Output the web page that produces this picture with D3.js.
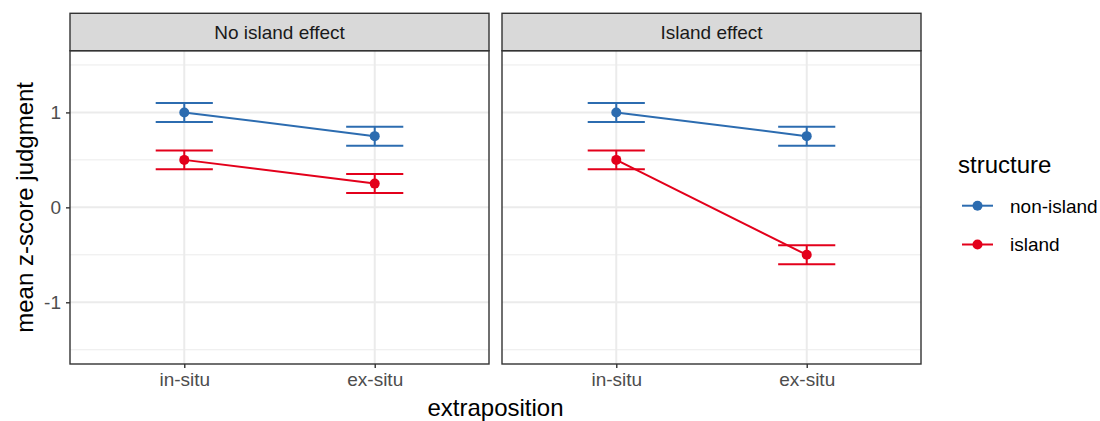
<!DOCTYPE html>
<html>
<head>
<meta charset="utf-8">
<script src="https://cdn.jsdelivr.net/npm/d3@7"></script>
<style>
  body { margin: 0; background: #fff; }
  text { font-family: "Liberation Sans", Arial, Helvetica, sans-serif; }
</style>
</head>
<body>
<div id="chart"></div>
<script>
// Chart data
var facets = ['No island effect', 'Island effect'];
var positions = ['in-situ', 'ex-situ'];
var structures = ['non-island', 'island'];
var colors = ['#2c6cb0', '#e3001b'];

// means per facet, in position order
var nonIslandMeans = [[1.0, 0.75], [1.0, 0.75]];
var islandMeans = [[0.5, 0.25], [0.5, -0.5]];
// error bar half widths
var nonIslandErr = [[0.1, 0.1], [0.1, 0.1]];
var islandErr = [[0.1, 0.1], [0.1, 0.1]];

var yTicks = [-1, 0, 1];
var yMinor = [-1.5, -0.5, 0.5, 1.5];

// Dimensions
var svgWidth = 1100;
var svgHeight = 421;
var panelTop = 50.7;
var panelBottom = 364;
var stripTop = 13.3;
var panelLefts = [70, 502];
var panelWidth = 419;

var svg = d3.select('#chart')
    .append('svg')
    .attr('width', svgWidth)
    .attr('height', svgHeight);

var yScale = d3.scaleLinear()
    .domain([-1.65, 1.65])
    .range([panelBottom, panelTop]);

var xScale = d3.scalePoint()
    .domain(positions)
    .range([0, panelWidth])
    .padding(0.6);  // 0.6 expansion each side on a discrete axis

facets.forEach(function (facet, f) {
    var g = svg.append('g')
        .attr('transform', `translate(${panelLefts[f]} 0)`);

    // Panel background + grid
    g.append('rect')
        .attr('x', 0).attr('y', panelTop)
        .attr('width', panelWidth).attr('height', panelBottom - panelTop)
        .attr('fill', '#fff');

    g.selectAll('.minor')
        .data(yMinor)
        .enter()
        .append('line')
        .attr('x1', 0).attr('x2', panelWidth)
        .attr('y1', d => yScale(d)).attr('y2', d => yScale(d))
        .attr('stroke', '#ebebeb').attr('stroke-width', 1);

    g.selectAll('.major')
        .data(yTicks)
        .enter()
        .append('line')
        .attr('x1', 0).attr('x2', panelWidth)
        .attr('y1', d => yScale(d)).attr('y2', d => yScale(d))
        .attr('stroke', '#ebebeb').attr('stroke-width', 2);

    g.selectAll('.vgrid')
        .data(positions)
        .enter()
        .append('line')
        .attr('x1', d => xScale(d)).attr('x2', d => xScale(d))
        .attr('y1', panelTop).attr('y2', panelBottom)
        .attr('stroke', '#ebebeb').attr('stroke-width', 2);

    // Series
    var series = [
        { means: nonIslandMeans[f], errs: nonIslandErr[f], color: colors[0] },
        { means: islandMeans[f], errs: islandErr[f], color: colors[1] }
    ];

    series.forEach(function (s) {
        var pts = positions.map((p, i) => ({ x: p, y: s.means[i], e: s.errs[i] }));

        // error bars
        pts.forEach(function (d) {
            var cx = xScale(d.x);
            var half = xScale.step() * 0.15;
            var eb = g.append('g')
                .attr('stroke', s.color)
                .attr('stroke-width', 2)
                .attr('fill', 'none');
            eb.append('line')
                .attr('x1', cx - half).attr('x2', cx + half)
                .attr('y1', yScale(d.y + d.e)).attr('y2', yScale(d.y + d.e));
            eb.append('line')
                .attr('x1', cx - half).attr('x2', cx + half)
                .attr('y1', yScale(d.y - d.e)).attr('y2', yScale(d.y - d.e));
            eb.append('line')
                .attr('x1', cx).attr('x2', cx)
                .attr('y1', yScale(d.y + d.e)).attr('y2', yScale(d.y - d.e));
        });

        var line = d3.line()
            .x(d => xScale(d.x))
            .y(d => yScale(d.y));

        g.append('path')
            .datum(pts)
            .attr('d', line)
            .attr('fill', 'none')
            .attr('stroke', s.color)
            .attr('stroke-width', 2);

        g.selectAll(null)
            .data(pts)
            .enter()
            .append('circle')
            .attr('cx', d => xScale(d.x))
            .attr('cy', d => yScale(d.y))
            .attr('r', 5)
            .attr('fill', s.color);
    });

    // Panel border
    g.append('rect')
        .attr('x', 0).attr('y', panelTop)
        .attr('width', panelWidth).attr('height', panelBottom - panelTop)
        .attr('fill', 'none')
        .attr('stroke', '#333333').attr('stroke-width', 1.4);

    // Strip
    g.append('rect')
        .attr('x', 0).attr('y', stripTop)
        .attr('width', panelWidth).attr('height', panelTop - stripTop)
        .attr('fill', '#d9d9d9')
        .attr('stroke', '#333333').attr('stroke-width', 1.4);

    g.append('text')
        .attr('x', panelWidth / 2)
        .attr('y', (stripTop + panelTop) / 2)
        .attr('dy', '0.36em')
        .attr('text-anchor', 'middle')
        .style('font-size', '19px')
        .style('fill', '#1a1a1a')
        .text(facet);

    // X axis
    var xAxis = d3.axisBottom(xScale).tickSize(4).tickPadding(5);
    var xg = g.append('g')
        .attr('transform', `translate(0, ${panelBottom})`)
        .call(xAxis);
    xg.select('.domain').remove();
    xg.selectAll('line').attr('stroke', '#333333').attr('stroke-width', 1.4);
    xg.selectAll('text')
        .style('font-size', '19px')
        .style('fill', '#4d4d4d')
        .style('font-family', '"Liberation Sans", Arial, sans-serif');

    // Y axis only on first panel
    if (f == 0) {
        var yAxis = d3.axisLeft(yScale).tickValues(yTicks).tickSize(4).tickPadding(5)
            .tickFormat(d => String(d));
        var yg = g.append('g').call(yAxis);
        yg.select('.domain').remove();
        yg.selectAll('line').attr('stroke', '#333333').attr('stroke-width', 1.4);
        yg.selectAll('text')
            .style('font-size', '19px')
            .style('fill', '#4d4d4d')
            .style('font-family', '"Liberation Sans", Arial, sans-serif');
    }
});

// Axis titles
svg.append('text')
    .attr('x', (panelLefts[0] + panelLefts[1] + panelWidth) / 2)
    .attr('y', 416)
    .attr('text-anchor', 'middle')
    .style('font-size', '24px')
    .style('fill', '#000')
    .text('extraposition');

svg.append('g')
    .attr('transform', `translate(33 ${(panelTop + panelBottom) / 2})`)
    .append('text')
    .attr('transform', 'rotate(-90)')
    .attr('text-anchor', 'middle')
    .style('font-size', '24px')
    .style('fill', '#000')
    .text('mean z-score judgment');

// Legend
var legend = svg.append('g').attr('transform', 'translate(958 0)');
legend.append('text')
    .attr('x', 0).attr('y', 173)
    .style('font-size', '24px')
    .text('structure');

var keyY = [205.7, 244.5];
structures.forEach(function (s, i) {
    var k = legend.append('g').attr('transform', `translate(0 ${keyY[i]})`);
    k.append('line')
        .attr('x1', 4).attr('x2', 35)
        .attr('stroke', colors[i]).attr('stroke-width', 2);
    k.append('circle')
        .attr('cx', 19.5).attr('cy', 0).attr('r', 5)
        .attr('fill', colors[i]);
    k.append('text')
        .attr('x', 52).attr('dy', '0.36em')
        .style('font-size', '19px')
        .style('fill', '#000')
        .text(s);
});
</script>
</body>
</html>
